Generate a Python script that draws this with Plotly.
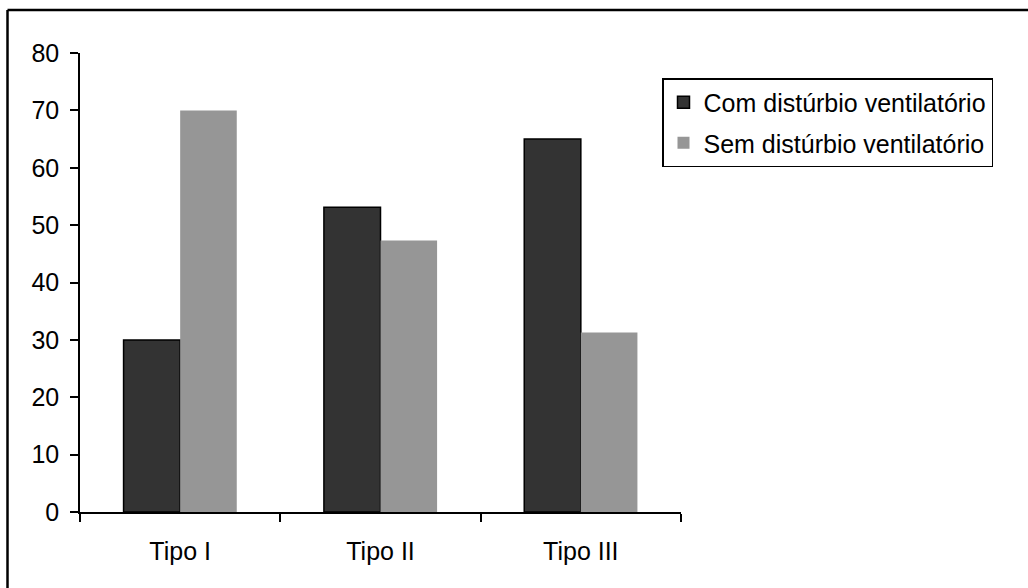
import plotly.graph_objects as go

categories = ["Tipo I", "Tipo II", "Tipo III"]
com_disturbio = [30, 53.1, 65]
sem_disturbio = [70, 47.3, 31.3]
series_names = ["Com distúrbio ventilatório", "Sem distúrbio ventilatório"]
y_ticks = [0, 10, 20, 30, 40, 50, 60, 70, 80]

W, H = 1028, 588
L, R, T, B = 80, 347, 53, 76
pw, ph = W - L - R, H - T - B

fig = go.Figure()
fig.add_trace(go.Bar(
    x=categories, y=com_disturbio, name=series_names[0],
    marker=dict(color="#333333", line=dict(color="#000000", width=1.5)),
    legendgroup="a",
))
fig.add_trace(go.Bar(
    x=categories, y=sem_disturbio, name=series_names[1],
    marker=dict(color="#969696", line=dict(width=0)),
    legendgroup="b",
))

font = dict(family="Liberation Sans, Arial, sans-serif", size=25, color="#000000")

def px_x(px):
    return (px - L) / pw

def px_y(py):
    return (H - B - py) / ph

fig.update_layout(
    width=W, height=H,
    margin=dict(l=L, r=R, t=T, b=B, pad=0),
    paper_bgcolor="white", plot_bgcolor="white",
    barmode="group", bargap=0.435, bargroupgap=0,
    font=font,
    showlegend=True,
    legend=dict(
        x=px_x(662), y=px_y(78), xanchor="left", yanchor="top",
        bordercolor="#000000", borderwidth=1.5, bgcolor="white",
        font=font, traceorder="grouped", tracegroupgap=5,
        itemwidth=30,
    ),
    xaxis=dict(
        showline=True, linecolor="#000000", linewidth=1.5,
        ticks="outside", tickson="boundaries", ticklen=8, tickwidth=1.5,
        tickcolor="#000000", showgrid=False, ticklabelstandoff=16,
        tickfont=font,
    ),
    yaxis=dict(
        range=[0, 80], tickvals=y_ticks,
        showline=True, linecolor="#000000", linewidth=1.5,
        ticks="outside", ticklen=8, tickwidth=1.5, tickcolor="#000000",
        showgrid=False, zeroline=False, ticklabelstandoff=6,
        tickfont=font,
    ),
    shapes=[
        dict(type="line", xref="paper", yref="paper",
             x0=px_x(7.5), x1=px_x(1030), y0=px_y(10), y1=px_y(10),
             line=dict(color="#000000", width=2.5)),
        dict(type="line", xref="paper", yref="paper",
             x0=px_x(7.5), x1=px_x(7.5), y0=px_y(10), y1=px_y(590),
             line=dict(color="#000000", width=2.5)),
    ],
)

fig.write_html("out.html")
